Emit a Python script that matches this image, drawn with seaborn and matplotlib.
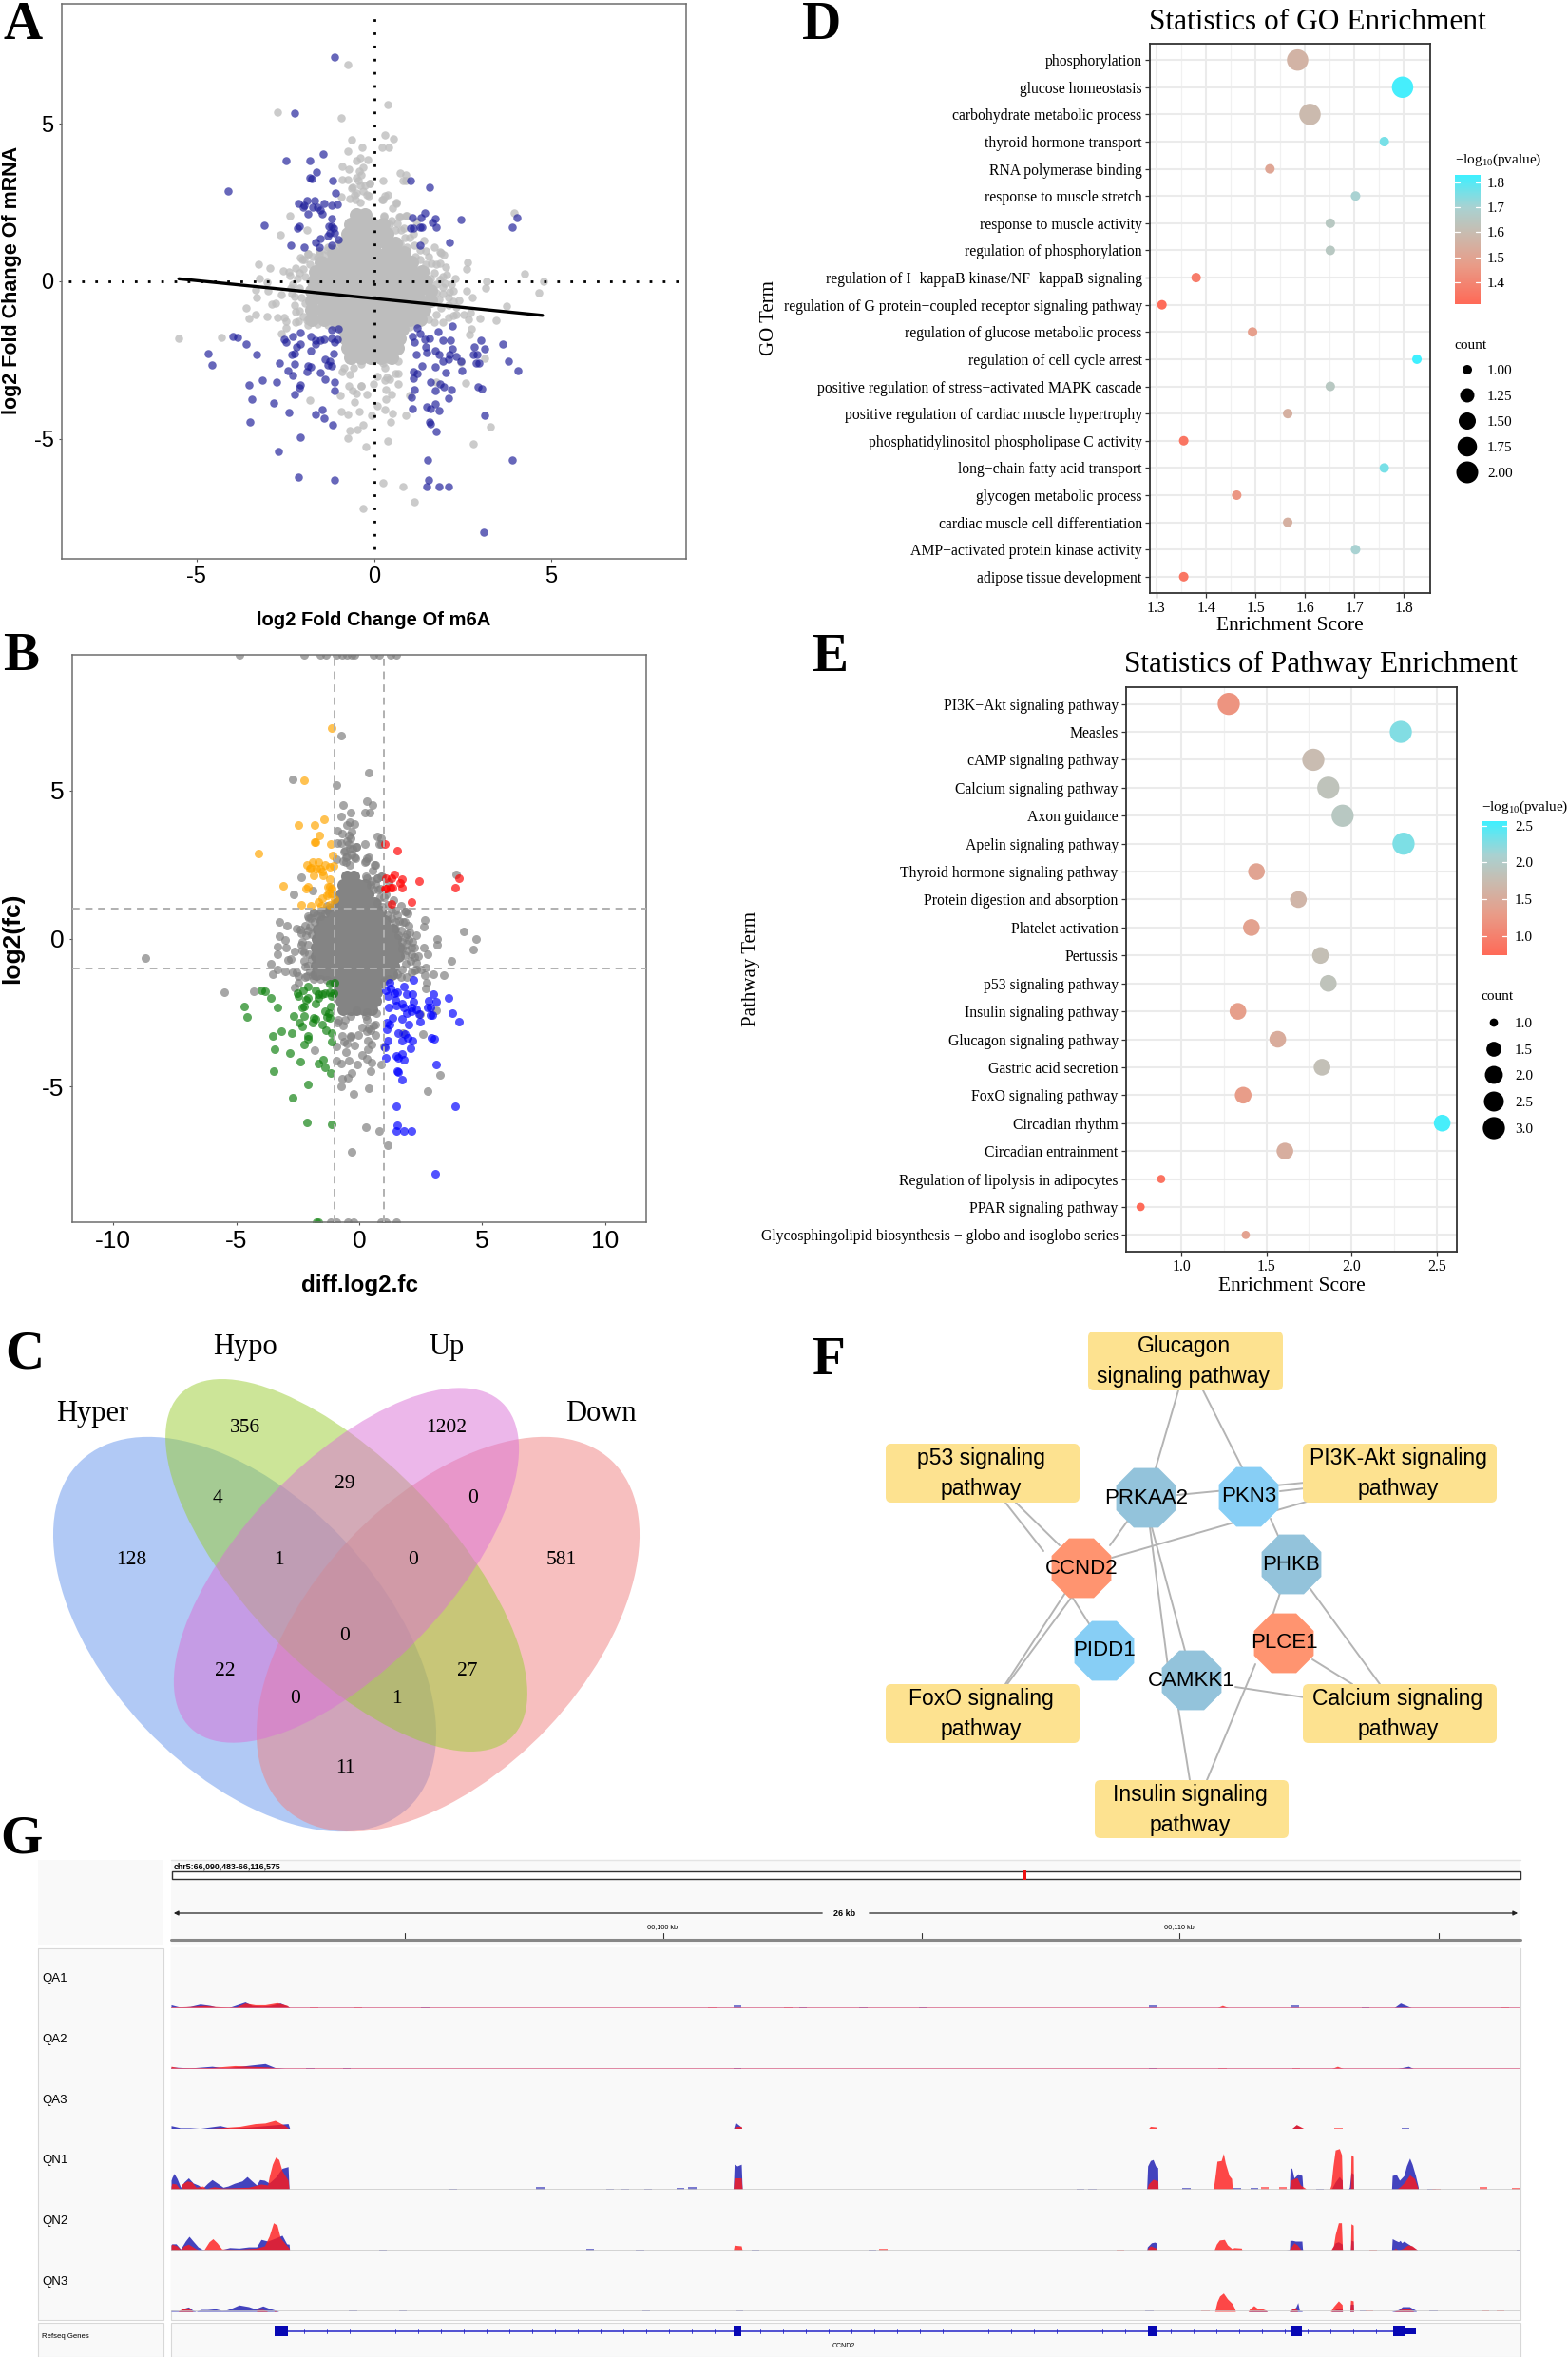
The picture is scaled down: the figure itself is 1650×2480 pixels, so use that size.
import numpy as np
import pandas as pd
import matplotlib
matplotlib.use("Agg")
import matplotlib.pyplot as plt
from matplotlib.colors import LinearSegmentedColormap
from matplotlib.patches import Ellipse, FancyBboxPatch, RegularPolygon, Rectangle
import seaborn as sns

sns.set_theme(style="white")
plt.rcParams["font.family"] = ["Liberation Sans", "DejaVu Sans"]
plt.rcParams["axes.unicode_minus"] = False
plt.rcParams["mathtext.default"] = "regular"
plt.rcParams["mathtext.fontset"] = "stix"

W, H = 1650, 2480
SERIF = "Liberation Serif"
SANS = "Liberation Sans"

# ---------------------------------------------------------------- scatter data
UP_LEFT = [(-1.11,7.11),(-2.24,5.33),(-2.49,3.83),(-1.81,3.83),(-1.42,4.04),(-1.63,3.48),(-1.82,3.27),(-1.76,3.25),
 (-1.16,3.2),(-1.09,2.8),(-4.1,2.86),(-3.09,1.79),(-2.35,1.15),(-1.96,1.1),(-2.16,1.7),(-2.09,1.76),(-2.13,2.48),
 (-2.0,2.35),(-1.96,2.4),(-1.89,2.57),(-1.87,2.14),(-1.68,2.57),(-1.72,2.35),(-1.59,2.35),(-1.4,2.48),(-1.46,2.14),
 (-1.18,2.42),(-1.04,2.44),(-1.52,2.27),(-1.2,1.99),(-1.27,1.75),(-1.18,1.75),(-1.13,1.7),(-1.24,1.53),(-1.11,1.53),
 (-1.52,1.36),(-1.66,1.24),(-1.55,1.1),(-1.19,1.14),(-1.01,1.33),(-1.31,1.46)]
UP_RIGHT = [(1.04,3.18),(1.56,2.98),(4.04,2.03),(3.89,1.71),(2.45,1.95),(1.42,2.18),(1.09,2.03),(1.33,2.03),(1.74,1.99),
 (1.66,1.88),(1.75,1.71),(1.04,1.7),(1.1,1.7),(1.29,1.71),(1.34,1.71),(1.31,1.16),(2.12,1.23)]
DOWN_LEFT = [(-4.68,-2.3),(-4.57,-2.64),(-3.98,-1.76),(-3.84,-1.78),(-3.61,-2.0),(-3.32,-2.33),(-3.53,-3.29),(-3.15,-3.14),
 (-2.75,-3.18),(-3.43,-3.73),(-3.49,-4.47),(-2.82,-3.87),(-2.41,-4.17),(-2.24,-3.58),(-2.07,-3.28),(-2.09,-3.39),
 (-2.69,-5.39),(-2.07,-4.93),(-2.12,-6.21),(-1.12,-6.29),(-1.66,-4.22),(-1.45,-4.08),(-1.41,-4.35),(-1.16,-4.54),
 (-1.11,-3.2),(-1.11,-3.48),(-1.37,-3.11),(-1.52,-2.9),(-1.79,-2.72),(-1.85,-2.67),(-1.9,-2.85),(-2.42,-2.84),(-2.3,-2.98),
 (-2.67,-2.6),(-2.24,-2.61),(-2.33,-2.33),(-2.24,-2.3),(-2.18,-2.07),(-2.07,-2.0),(-2.53,-1.83),(-2.28,-1.74),(-2.48,-1.93),
 (-2.07,-1.62),(-1.79,-1.74),(-1.66,-1.87),(-1.52,-1.87),(-1.41,-1.83),(-1.18,-1.8),(-1.04,-1.83),(-1.01,-1.5),(-1.18,-1.54),
 (-1.79,-2.2),(-1.38,-2.46),(-1.24,-2.52),(-1.18,-2.69),(-1.14,-2.29),(-1.31,-2.65),(-1.66,-2.0),(-1.11,-1.93)]
DOWN_RIGHT = [(3.09,-7.95),(3.9,-5.66),(2.11,-6.5),(1.83,-6.5),(1.5,-6.5),(1.55,-6.3),(1.52,-5.66),(1.75,-4.75),(1.6,-4.52),
 (1.56,-4.47),(3.12,-4.24),(1.08,-4.03),(1.49,-3.97),(1.6,-4.03),(1.72,-3.9),(1.83,-4.09),(1.05,-3.67),(1.15,-3.44),(1.6,-3.2),
 (1.87,-3.24),(1.97,-3.35),(1.74,-3.46),(2.18,-3.45),(2.09,-3.71),(2.93,-3.35),(3.04,-3.4),(1.11,-2.85),(1.22,-2.92),(1.12,-3.07),
 (1.35,-2.69),(1.74,-2.72),(2.01,-2.89),(2.49,-2.82),(2.89,-2.59),(2.97,-2.59),(2.91,-2.33),(2.8,-2.33),(2.82,-2.09),(3.13,-2.14),
 (3.02,-1.88),(3.64,-2.0),(3.79,-2.52),(4.06,-2.82),(2.45,-2.54),(2.31,-2.39),(2.13,-2.33),(2.11,-2.46),(1.93,-2.52),(1.83,-2.33),
 (1.74,-2.2),(1.94,-1.87),(2.16,-1.88),(2.22,-2.13),(2.2,-1.41),(1.81,-1.61),(1.56,-1.8),(1.42,-1.83),(1.22,-1.48),(1.29,-1.67),
 (1.08,-1.74),(1.15,-1.93),(1.18,-2.33),(1.45,-2.07),(1.49,-2.26)]
FRINGE = [(-0.73,6.86),(0.38,5.6),(-2.72,5.37),(-0.92,5.19),(0.3,4.64),(0.56,4.51),(-0.64,4.5),(-0.33,4.24),(0.22,4.26),(0.41,4.26),
 (-0.75,4.12),(-0.4,3.92),(-0.18,3.86),(-0.49,3.82),(-0.89,3.65),(-0.7,3.56),(0.74,3.44),(0.89,3.39),(0.81,3.2),(0.89,3.2),(0.25,3.19),
 (-0.9,3.23),(-0.75,3.23),(-0.12,3.1),(-0.42,3.49),(-0.31,3.62),(-0.49,3.29),(-0.4,3.03),(-0.59,2.97),(0.4,2.73),(0.26,2.6),(0.64,2.48),
 (0.53,2.31),(-0.92,2.67),(-0.67,2.61),(-0.55,2.75),(-0.3,2.85),(-0.15,2.7),(3.94,2.16),(-2.37,2.07),(-1.9,1.62),(-2.65,1.48),(0.29,2.05),(0.74,2.05),(0.92,2.09),
 (4.24,0.25),(4.77,0),(4.65,-0.37),(3.73,-0.77),(3.43,-1.23),(3.0,-1.19),(2.65,0.61),(2.61,0.39),(3.17,0),(3.16,-0.21),(2.61,-0.3),
 (2.78,-0.52),(2.52,-1.05),(2.72,-0.99),(2.67,-1.22),(2.75,-1.5),(2.69,-1.7),(3.13,-2.43),(2.46,-2.55),(2.59,-3.22),(3.27,-4.6),
 (2.79,-5.14),(0.4,-5.07),(-0.22,-5.24),(0.26,-6.38),(0.83,-6.51),(1.15,-6.99),(-0.31,-7.19),(-0.73,-4.98),(-0.68,-4.73),(-0.48,-4.69),
 (-0.31,-4.55),(-0.92,-4.13),(-0.74,-4.22),(-0.42,-4.13),(-0.08,-4.26),(0.47,-4.47),(0.3,-4.07),(0.51,-4.2),(0.89,-4.25),(1.01,-3.63),
 (-1.81,-3.78),(-0.94,-3.63),(-0.56,-3.83),(-0.7,-3.3),(-0.36,-3.3),(-0.02,-3.25),(0.33,-3.44),(0.67,-3.25),(0.33,-3.74),(1.76,-3.18),
 (-0.9,-2.85),(-0.67,-2.95),(0.26,-2.6),(0.67,-2.92),(-0.5,-3.55),(-0.2,-3.6),(0.1,-3.0),(0.45,-3.1),(-3.61,-0.84),(-3.52,-1.19),(-3.34,-1.05),
 (-3.01,-1.11),(-4.3,-1.78),(-5.5,-1.8),(-3.26,0.55),(-2.94,0.42),(-3.23,0.08),(-3.02,-0.04),(-3.34,-0.26),(-3.32,-0.52),(-2.98,-0.31),
 (-2.89,-0.72),(-2.78,-0.69),(-2.72,-1.15),(-2.54,-1.15),(-2.48,-1.28),(-2.61,-1.65),(-2.48,-1.48),(-2.56,0.33),(-2.37,0.18),(-2.2,0.42),
 (-2.41,0.29),(-2.31,-0.39),(-2.61,-0.43),(-2.07,0.75),(-1.86,0.88),(-1.96,0.68),(1.87,0.92),(1.98,0.85),(1.76,0.55),(2.01,0.44),(2.18,-0.1),
 (2.24,-0.3),(2.11,-0.52),(2.31,-0.82),(2.11,-1.15),(2.24,-1.08),(1.2,1.9),(1.4,1.3),(1.45,0.95),(1.1,1.5),(1.7,1.1),(-1.55,0.95),(-1.3,1.1),
 (-2.2,-0.95),(-2.3,-0.1),(-2.15,0.1),(2.3,0.1),(2.05,0.2),(2.4,-0.6),(1.95,-1.3),(1.7,-1.3),(-2.2,-1.3),
 (-0.35,3.39),(-0.44,3.19),(-0.26,3.04),(-0.13,3.09),(-0.63,2.94),(-0.5,2.79),(-0.21,2.74),(-0.53,2.59),(-0.39,2.49),(0.32,2.71),(0.23,2.59),
 (0.63,2.49),(0.72,2.04),(0.9,2.09),(0.5,1.94),(0.28,2.09),(0.77,1.64),(0.59,1.64),(0.86,1.39),(0.92,1.08),(1.17,0.78),(1.53,0.78),(1.3,0.98),
 (1.89,0.9),(1.62,0.58),(1.86,0.56),(1.46,0.33),(1.71,0.28),(1.93,0.16),(2.14,-0.32),(1.93,-0.17),(2.24,-0.62),(1.84,-0.57),(2.31,-1.04),
 (-2.03,0.68),(-1.87,0.88),(-1.73,0.78),(-1.55,0.88),(-1.33,0.98),(-2.09,0.28),(-2.05,-0.52),(-2.23,-0.47),(-2.09,-0.92),(-2.14,-1.28),(-1.87,-1.38),
 (-0.84,-2.73),(-0.57,-2.73),(-0.35,-2.63),(-0.1,-2.43),(0.29,-2.48),(0.68,-2.53),(0.32,-2.73),(0.59,-2.93),(0.32,-3.13),(-0.6,-3.48),(-0.35,-3.33),
 (0.37,-3.03),(0.5,-3.58),(0.1,-3.94),
 (1.75,-0.1),(1.85,0.05),(2.0,-0.05),(1.95,-0.4),(2.1,-0.75),(1.9,-0.85),(1.75,-1.05),(1.55,-1.2),(1.75,-0.35),(1.6,0.1),(1.45,0.55),(1.3,0.7),
 (1.15,1.15),(1.0,1.4),(0.85,1.7),(0.65,1.85),(0.45,1.8),(0.75,1.2),(-1.95,0.15),(-2.1,-0.2),(-1.95,-0.7),(-2.25,-0.75),(-2.35,-0.2),(-2.0,0.4),
 (-1.8,0.55),(-1.6,0.75),(-1.4,0.85),(-1.2,1.05),(-1.0,1.2),(-2.0,-1.1),(-1.9,-1.25),(-1.6,-1.35),(-1.3,-1.4),(-1.1,-1.45),(1.2,-1.35),(1.0,-1.45)]
CORE_ROWS = [
 (2.1,[-0.5,-0.25]),
 (1.8,[-0.65,-0.35,-0.05,0.25]),
 (1.5,[-0.75,-0.45,-0.15,0.15,0.35]),
 (1.2,[-0.85,-0.55,-0.25,0.05,0.35,0.6]),
 (0.9,[-1.15,-0.85,-0.55,-0.25,0.05,0.35,0.65,0.85]),
 (0.6,[-1.5,-1.2,-0.9,-0.6,-0.3,0.0,0.3,0.6,0.9,1.05]),
 (0.3,[-1.65,-1.35,-1.05,-0.75,-0.45,-0.15,0.15,0.45,0.75,1.05,1.35]),
 (0.0,[-1.7,-1.4,-1.1,-0.8,-0.5,-0.2,0.1,0.4,0.7,1.0,1.3,1.45]),
 (-0.3,[-1.75,-1.45,-1.15,-0.85,-0.55,-0.25,0.05,0.35,0.65,0.95,1.25,1.6]),
 (-0.6,[-1.75,-1.4,-1.1,-0.8,-0.5,-0.2,0.1,0.4,0.7,1.0,1.3,1.6]),
 (-0.9,[-1.75,-1.45,-1.15,-0.85,-0.55,-0.25,0.05,0.35,0.65,0.95,1.25,1.4]),
 (-1.2,[-1.75,-1.4,-1.1,-0.8,-0.5,-0.2,0.1,0.4,0.7,1.0,1.3]),
 (-1.5,[-0.85,-0.55,-0.25,0.05,0.35,0.65,0.8]),
 (-1.8,[-0.8,-0.5,-0.2,0.1,0.4,0.7]),
 (-2.1,[-0.75,-0.45,-0.15,0.1,0.4,0.65]),
 (-2.4,[-0.65,-0.35,-0.1,0.2,0.5]),
]
EDGE_TOP_X = [-4.87,-2.23,-1.6,-1.36,-0.91,-0.71,-0.51,-0.32,-0.18,0.57,0.81,1.26,1.52]
EDGE_BOTTOM_X = [-1.16,-0.91,-0.45,-0.22,0.87,1.07,1.52]
EDGE_BOTTOM_GREEN_X = [-1.75,-1.68]
B_EXTRA = [(-8.7,-0.65)]
A_LINE_X = [-5.5,4.75]
A_LINE_Y = [0.08,-1.08]

# ---------------------------------------------------------------- enrichment data
GO_TERMS = ["phosphorylation","glucose homeostasis","carbohydrate metabolic process","thyroid hormone transport",
 "RNA polymerase binding","response to muscle stretch","response to muscle activity","regulation of phosphorylation",
 "regulation of I−kappaB kinase/NF−kappaB signaling","regulation of G protein−coupled receptor signaling pathway",
 "regulation of glucose metabolic process","regulation of cell cycle arrest","positive regulation of stress−activated MAPK cascade",
 "positive regulation of cardiac muscle hypertrophy","phosphatidylinositol phospholipase C activity","long−chain fatty acid transport",
 "glycogen metabolic process","cardiac muscle cell differentiation","AMP−activated protein kinase activity","adipose tissue development"]
GO_SCORE = [1.585,1.797,1.61,1.76,1.529,1.702,1.651,1.651,1.38,1.311,1.494,1.826,1.651,1.565,1.355,1.76,1.462,1.565,1.702,1.355]
GO_LOGP = [1.56,1.82,1.59,1.76,1.51,1.70,1.65,1.65,1.37,1.32,1.48,1.83,1.65,1.55,1.35,1.76,1.45,1.55,1.70,1.35]
GO_COUNT = [2,2,2,1,1,1,1,1,1,1,1,1,1,1,1,1,1,1,1,1]
PW_TERMS = ["PI3K−Akt signaling pathway","Measles","cAMP signaling pathway","Calcium signaling pathway","Axon guidance",
 "Apelin signaling pathway","Thyroid hormone signaling pathway","Protein digestion and absorption","Platelet activation","Pertussis",
 "p53 signaling pathway","Insulin signaling pathway","Glucagon signaling pathway","Gastric acid secretion","FoxO signaling pathway",
 "Circadian rhythm","Circadian entrainment","Regulation of lipolysis in adipocytes","PPAR signaling pathway",
 "Glycosphingolipid biosynthesis − globo and isoglobo series"]
PW_SCORE = [1.279,2.29,1.776,1.864,1.948,2.306,1.442,1.688,1.412,1.818,1.864,1.333,1.567,1.827,1.364,2.533,1.609,0.882,0.761,1.379]
PW_LOGP = [1.2,2.27,1.75,1.85,1.93,2.29,1.4,1.65,1.37,1.8,1.85,1.33,1.52,1.81,1.3,2.52,1.55,0.85,0.76,1.38]
PW_COUNT = [3,3,3,3,3,3,2,2,2,2,2,2,2,2,2,2,2,1,1,1]

# ---------------------------------------------------------------- Venn and network data
VENN_SETS = ["Hyper","Hypo","Up","Down"]
VENN_COUNTS = [356,1202,4,29,0,128,1,0,581,0,22,27,0,1,11]
GENE_NODES = ["PRKAA2","PKN3","CCND2","PHKB","PIDD1","PLCE1","CAMKK1"]
PATHWAY_BOXES = [["Glucagon","signaling pathway"],["p53 signaling","pathway"],["PI3K-Akt signaling","pathway"],
                 ["FoxO signaling","pathway"],["Calcium signaling","pathway"],["Insulin signaling","pathway"]]

# ---------------------------------------------------------------- coverage tracks (bin, height)
TRACKS = ["QA1","QA2","QA3","QN1","QN2","QN3"]
BLUE = {
 "QA1":[[(171,10),(176,6),(180,3),(190,5),(200,12),(210,8),(218,2),(228,1),(245,18),(252,8),(262,6),(270,8),(280,15),(288,5),(290,0)],
        [(1393,0),(1400,15),(1408,5),(1412,0)]],
 "QA2":[[(171,6),(190,3),(212,8),(225,3),(265,16),(275,4),(290,0)],[(1395,0),(1408,8),(1414,0)]],
 "QA3":[[(171,12),(180,6),(190,6),(200,4),(220,12),(230,5),(250,8),(288,18),(290,0)],[(733,0),(735,22),(741,8),(742,0)],
        [(1290,0),(1296,14),(1303,3),(1305,0)]],
 "QN1":[[(171,28),(172,37),(174,48),(177,33),(180.5,7.5),(184,23),(188.4,35),(193,20),(198,14),(202.7,5),(207.4,19),(212,30),(217,20),(223,7.5),(228,11),(234.3,19),(242,26),(247,39),(251.8,26),(256.5,14),(259.7,30),(264.4,28),(269,20),(275.5,37),(282,63),(288,68),(289,0)],
        [(733,0),(734,75),(737,70),(741,75),(742,0)],
        [(1146.3,0),(1147.3,70),(1150,86),(1152.7,89),(1155.2,70),(1157.4,65),(1157.7,0)],
        [(1288.9,0),(1289.8,65),(1291.4,63),(1293.6,35),(1297.7,47),(1301.5,42),(1302.5,0)],
        [(1330.6,0),(1334.8,23),(1338.9,39),(1341.7,28),(1342,0)],[(1347.4,0),(1349,7),(1350.6,51),(1352.8,47),(1353.1,0)],
        [(1391.1,0),(1391.8,42),(1395.9,45),(1399,28),(1403.5,42),(1406,70),(1409.2,93),(1411.7,75),(1415,42),(1417.7,9),(1418,0)]],
 "QN2":[[(171,18),(172,20),(176,20),(180.5,5),(185.3,28),(189,42),(193,28),(198,11),(202.7,3),(221.7,3),(229.6,9),(239,7.5),(248.6,11),(256.5,11),(261,33),(267.6,28),(275.5,37),(282,45),(286.6,20),(289,19),(289.5,0)],
        [(1146.3,0),(1147,11),(1151,23),(1154.3,25),(1155.8,23),(1156.2,0)],
        [(1282.5,0),(1289,3),(1289.5,30),(1292,30),(1295,28),(1301.5,28),(1302,7),(1302.5,0)],
        [(1330.6,0),(1334.8,23),(1338,26),(1341.7,19),(1342,0)],[(1350,0),(1350.6,31),(1352.8,28),(1353.1,0)],
        [(1391.1,0),(1391.8,35),(1395,30),(1398,26),(1399.7,30),(1401.3,23),(1403.5,28),(1406,23),(1409.2,17),(1412.4,11),(1416.5,3),(1416.8,0)]],
 "QN3":[[(171,3),(172,3),(179,2),(183.7,9),(188.4,13),(193,3),(196,0),(201,5.5),(207.4,5.5),(215.3,7.5),(221.7,3),(226.4,4),(232.8,11),(239,19),(248.6,14),(255,7.5),(262.8,16),(269,9),(277,2),(278.7,0)],
        [(1247.7,0),(1252,4),(1265,3),(1267,0)],
        [(1288.9,0),(1292,7.5),(1295.2,11),(1297.4,26),(1299,3),(1301.5,2),(1301.8,0)],
        [(1330.6,0),(1336,7.5),(1341.7,7.5),(1342,0)],[(1349.5,0),(1350.1,21),(1352.8,21),(1353.1,0)],
        [(1391,0),(1398,5),(1402,14),(1409,14),(1415.5,3),(1415.8,0)]],
}
RED = {
 "QA1":[[(171,3),(190,5),(205,8),(215,5),(235,2),(245,15),(255,10),(265,10),(277,16),(287,8),(290,0)],[(1216,0),(1222,8),(1229,0)]],
 "QA2":[[(171,8),(180,3),(210,4),(235,10),(250,8),(268,6),(276,3),(285,0)],[(1330,0),(1337,8),(1344,0)]],
 "QA3":[[(171,3),(210,4),(240,10),(255,18),(265,20),(275,28),(285,12),(290,0)],[(733,0),(735,10),(741,10),(742,0)],
        [(1147,0),(1150,10),(1156,8),(1157,0)],[(1290,0),(1296,15),(1304,3),(1305,0)]],
 "QN1":[[(171,10),(172,19),(176,17),(180.5,0),(182,17),(187,26),(191.6,23),(196,7.5),(202.7,11),(206,3),(213.7,9),(223,5),(248.6,7.5),(261,17),(267.6,14),(269,37),(272.3,75),(275.5,96),(278.7,89),(282,56),(288,28),(289,0)],
        [(733,0),(734,35),(741,35),(742,0)],
        [(1146.3,0),(1148,17),(1152.7,31),(1157.4,26),(1157.7,0)],
        [(1212.8,0),(1214.4,33),(1216.6,84),(1220.8,86),(1223,107),(1224.9,79),(1228.7,42),(1231.2,33),(1231.8,9),(1233.4,0)],
        [(1288.9,0),(1290.4,28),(1293.6,33),(1296.8,35),(1300,14),(1304.7,5),(1306,0)],
        [(1329,0),(1330.6,14),(1332.6,70),(1334.8,117),(1338.9,121),(1341.1,103),(1342,0)],
        [(1350,0),(1350.6,103),(1352.8,98),(1353.1,0)],
        [(1395,0),(1399.7,9),(1404.4,23),(1409.2,44),(1414,33),(1417,9),(1418,0)]],
 "QN2":[[(171,15),(172,19),(177,14),(180.5,3),(183.7,14),(188.4,19),(194.8,7.5),(199.5,0),(204,3),(209,26),(212.8,35),(217,23),(221.7,5),(239,4),(256.5,7.5),(264.4,14),(269,42),(273.3,82),(277,75),(280.3,37),(286,17),(289,7.5),(289.5,0)],
        [(733,0),(734,16),(741,14),(742,0)],
        [(1146.3,0),(1148,9),(1150,14),(1155.8,7.5),(1156.2,0)],
        [(1213.5,0),(1216,19),(1219,31),(1224,33),(1227,17),(1232,5),(1233.4,9),(1241,7.5),(1241.7,0)],
        [(1288,0),(1290.4,9),(1293.6,23),(1296.8,17),(1300,5),(1301,0)],
        [(1330,0),(1333,14),(1334.8,47),(1338,82),(1341,82),(1342,5),(1342.4,0)],
        [(1350,0),(1350.6,79),(1352.8,75),(1353.1,0)],
        [(1391.8,0),(1395,7.5),(1398,0),(1402.9,7.5),(1407.6,17),(1411.7,14),(1416.5,3),(1416.8,0)]],
 "QN3":[[(178,0),(182,7.5),(187.8,11),(193,0)],[(256.5,5),(262.8,5.5),(267.6,0)],[(274,3),(277,0)],
        [(1214.4,0),(1216.6,28),(1219.2,45),(1223,54),(1227,37),(1231.8,23),(1234.4,7.5),(1235,0)],
        [(1247.7,0),(1249.3,7.5),(1253.4,17),(1257,9),(1262,7.5),(1266,3),(1266.7,0)],
        [(1288.9,0),(1292,7.5),(1295.2,11),(1296.8,3),(1297,0)],
        [(1330,0),(1333,14),(1338,31),(1341.7,20),(1342,0)],[(1349.5,0),(1350.1,33),(1352.8,31),(1353.1,0)],
        [(1393.4,0),(1401.3,6.5),(1409.2,7.5),(1413.3,0)]],
}
BLUE_SMALL = {"QA1":[(425,3),(737,8),(803,3),(863,3),(923,3),(1153,8),(1295,8),(1365,3)],
 "QA2":[(310,3),(347,3),(737,4),(1153,3)],
 "QA3":[(915,4),(1070,4),(1405,5)],
 "QN1":[(453,4),(540,7),(610,4),(625,4),(648,4),(680,5),(692,7),(1080,4),(1092,4),(1186,6),(1236.6,5),(1254,5),(1319.6,3),(1431,3)],
 "QN2":[(383,4),(590,5),(640,4),(755,3),(872,3),(1520,4)],
 "QN3":[(353,4),(403,3),(646,4),(739,4),(1149,3),(1363,3),(1433,3)]}
RED_SMALL = {"QA1":[(314,4),(358,3),(712,3),(788,3),(1505,3)],
 "QA2":[(1222,3),(1296,4)],
 "QA3":[(308,4),(418,4),(482,4),(1338,6)],
 "QN1":[(1264.5,9),(1282.5,7.5),(1436,4),(1483,7),(1515,5)],
 "QN2":[(883,5),(1120,4),(1373,3)],
 "QN3":[(1205,3),(1369,3),(1485,3),(1500,3)]}

# ---------------------------------------------------------------- helpers
fig = plt.figure(figsize=(W/100, H/100), dpi=100, facecolor="white")

def px_ax(l, t, r, b, **kw):
    return fig.add_axes([l/W, 1-b/H, (r-l)/W, (b-t)/H], **kw)

ov = px_ax(0, 0, W, H)
ov.set_xlim(0, W); ov.set_ylim(H, 0); ov.axis("off")

def T(x, y, s, size=11, fam=SERIF, ha="center", va="center", **kw):
    dy = 1.5 if (fam == SERIF and "rotation" not in kw and va == "center") else 0
    return ov.text(x, y+dy, s, fontsize=size, family=fam, ha=ha, va=va, color=kw.pop("color", "black"), **kw)

def diam(d):
    return (d*0.72)**2

for s, x, y in [("A",4,41),("B",3,705),("C",5,1439),("D",844,41),("E",854,706),("F",855,1446),("G",0,1949)]:
    T(x, y, s, size=41, ha="left", va="baseline", fontweight="bold")

def pts(lst):
    return [p[0] for p in lst], [p[1] for p in lst]

core = [(x, r[0]) for r in CORE_ROWS for x in r[1]]
core_x, core_y = pts(core)

def style_box(ax, color="#6e6e6e", lw=1.1):
    for sp in ax.spines.values():
        sp.set_visible(True); sp.set_color(color); sp.set_linewidth(lw)
    ax.set_xlabel(""); ax.set_ylabel("")

# ---------------------------------------------------------------- A
axA = px_ax(65, 4, 722, 588)
axA.set_xlim(-8.8, 8.8); axA.set_ylim(-8.8, 8.8)
sns.scatterplot(x=core_x, y=core_y, color="#bdbdbd", s=diam(15), linewidth=0, ax=axA)
fx, fy = pts(FRINGE)
sns.scatterplot(x=fx, y=fy, color="#bebebe", alpha=0.8, s=diam(8.5), linewidth=0, ax=axA)
colored = UP_LEFT+UP_RIGHT+DOWN_LEFT+DOWN_RIGHT
cx, cy = pts(colored)
sns.scatterplot(x=cx, y=cy, color="#1f1f9a", alpha=0.68, s=diam(8.5), linewidth=0, ax=axA, zorder=3)
axA.plot([0,0],[-8.5,8.6], color="black", lw=2, ls=(0,(1,4)), zorder=4)
axA.plot([-8.6,8.6],[0,0], color="black", lw=2, ls=(0,(1,4)), zorder=4)
axA.plot(A_LINE_X, A_LINE_Y, color="black", lw=2.4, zorder=5)
axA.set_xticks([-5,0,5]); axA.set_yticks([-5,0,5])
axA.tick_params(length=2, width=0.8, color="#555555", labelsize=17, pad=4, left=True, bottom=True, labelcolor="black")
style_box(axA)
T(13, 295, "log2 Fold Change Of mRNA", size=15.5, fam=SANS, rotation=90, fontweight="bold")
T(393, 653, "log2 Fold Change Of m6A", size=14.5, fam=SANS, fontweight="bold")
T(542, 48, "y=-0.1104x-0.5331", size=14.5, fam=SANS)
T(528, 97, "R$^2$ = 0.0065", size=14.5, fam=SANS)

# ---------------------------------------------------------------- B
axB = px_ax(76, 689, 680, 1286)
axB.set_xlim(-11.67, 11.67); axB.set_ylim(-9.58, 9.58)
sns.scatterplot(x=core_x, y=core_y, color="#848484", s=diam(13), linewidth=0, ax=axB)
bx, by = pts(FRINGE+B_EXTRA)
sns.scatterplot(x=bx, y=by, color="#808080", alpha=0.7, s=diam(9), linewidth=0, ax=axB)
sns.scatterplot(x=EDGE_TOP_X, y=[9.58]*len(EDGE_TOP_X), color="#808080", alpha=0.7, s=diam(9), linewidth=0, ax=axB)
sns.scatterplot(x=EDGE_BOTTOM_X, y=[-9.58]*len(EDGE_BOTTOM_X), color="#808080", alpha=0.7, s=diam(9), linewidth=0, ax=axB)
sns.scatterplot(x=EDGE_BOTTOM_GREEN_X, y=[-9.58]*len(EDGE_BOTTOM_GREEN_X), color="#1f8a1f", alpha=0.7, s=diam(9), linewidth=0, ax=axB)
for group, col in [(UP_LEFT,"#ffa500"),(UP_RIGHT,"#ff0000"),(DOWN_LEFT,"#0f800f"),(DOWN_RIGHT,"#0000ff")]:
    gx, gy = pts(group)
    sns.scatterplot(x=gx, y=gy, color=col, alpha=0.68, s=diam(9), linewidth=0, ax=axB, zorder=3)
for v in (-1, 1):
    axB.axvline(v, color="#b0b0b0", lw=1.4, ls=(0,(4,3)), zorder=4)
    axB.axhline(v, color="#b0b0b0", lw=1.4, ls=(0,(4,3)), zorder=4)
axB.set_xticks([-10,-5,0,5,10]); axB.set_yticks([-5,0,5])
axB.tick_params(length=2, width=0.8, color="#555555", labelsize=19, pad=4, left=True, bottom=True, labelcolor="black")
style_box(axB)
T(13, 987, "log2(fc)", size=19, fam=SANS, rotation=90, fontweight="bold")
T(378, 1353, "diff.log2.fc", size=17.5, fam=SANS, fontweight="bold")

# ---------------------------------------------------------------- D / E dot plots
cmap = LinearSegmentedColormap.from_list("tc", [(0,"#ff6a58"),(0.3,"#e99c88"),(0.55,"#c9bcb0"),(0.75,"#a9d2d2"),(1,"#3ff0ff")])

def dot_panel(box, xlim, ticks, terms, score, logp, count, hue_rng, size_rng, dia_rng):
    ax = px_ax(*box)
    df = pd.DataFrame({"t":terms,"x":score,"p":logp,"n":count})
    ax.set_axisbelow(True)
    sns.scatterplot(data=df, x="x", y="t", hue="p", palette=cmap, hue_norm=hue_rng, size="n",
                    sizes=(diam(dia_rng[0]), diam(dia_rng[1])), size_norm=size_rng, linewidth=0, legend=False, ax=ax, zorder=3)
    ax.set_xlim(*xlim); ax.set_ylim(19.6, -0.6)
    ax.set_xticks(ticks)
    mids = [(a+b)/2 for a, b in zip(ticks[:-1], ticks[1:])]
    ax.set_xticks(mids, minor=True)
    ax.grid(True, which="major", color="#ebebeb", lw=1.5)
    ax.grid(True, which="minor", axis="x", color="#f1f1f1", lw=0.9)
    ax.tick_params(which="major", length=3.5, width=0.9, color="#333333", labelsize=11.3, pad=2.5, left=True, bottom=True, labelcolor="black")
    ax.tick_params(which="minor", length=0)
    for lab in ax.get_xticklabels()+ax.get_yticklabels():
        lab.set_family(SERIF)
    style_box(ax, "#333333", 1.3)
    return ax

dot_panel((1210,46,1505,624),(1.2866,1.8528),[1.3,1.4,1.5,1.6,1.7,1.8],GO_TERMS,GO_SCORE,GO_LOGP,GO_COUNT,(1.312,1.83),(1,2),(10,22.5))
dot_panel((1185,723,1533,1317),(0.676,2.619),[1.0,1.5,2.0,2.5],PW_TERMS,PW_SCORE,PW_LOGP,PW_COUNT,(0.745,2.558),(1,3),(8.7,23.3))

T(1386, 22, "Statistics of GO Enrichment", size=22.6)
T(1357, 657, "Enrichment Score", size=15.5)
T(810, 335, "GO Term", size=15, rotation=90)
T(1390, 698, "Statistics of Pathway Enrichment", size=22.4)
T(1359, 1352, "Enrichment Score", size=15.5)
T(791, 1019, "Pathway Term", size=15, rotation=90)

def color_legend(l, t, r, b, lo, hi, ticks, labels, title_y, lab_x):
    ax = px_ax(l, t, r, b)
    ax.imshow(np.linspace(1, 0, 200)[:, None], cmap=cmap, aspect="auto", extent=(0, 1, lo, hi), vmin=0, vmax=1)
    for v in ticks:
        ax.plot([0, 0.2], [v, v], color="white", lw=0.9)
        ax.plot([0.8, 1], [v, v], color="white", lw=0.9)
    ax.set_xlim(0, 1); ax.set_ylim(lo, hi); ax.axis("off")
    T(l, title_y, "−log$_{10}$(pvalue)", size=11, ha="left")
    for v, s in zip(ticks, labels):
        y = b-(v-lo)/(hi-lo)*(b-t)
        T(lab_x, y, s, size=11, ha="left")

def size_legend(x, lab_x, title_y, ys, dias, labels):
    T(x-14, title_y, "count", size=11, ha="left")
    ov.scatter([x]*len(ys), ys, s=[diam(d) for d in dias], color="black", linewidths=0)
    for y, s in zip(ys, labels):
        T(lab_x, y, s, size=11, ha="left")

color_legend(1531,184,1558,320,1.312,1.83,[1.4,1.5,1.6,1.7,1.8],["1.4","1.5","1.6","1.7","1.8"],167,1565)
size_legend(1544,1565,362,[389,416,443,470,497],[10,15,18,20.5,23],["1.00","1.25","1.50","1.75","2.00"])
color_legend(1559,864,1586,1005,0.745,2.558,[1.0,1.5,2.0,2.5],["1.0","1.5","2.0","2.5"],847.5,1594)
size_legend(1572,1594,1047.5,[1076,1104,1131,1159,1187],[8.7,15.7,18.9,21,23.3],["1.0","1.5","2.0","2.5","3.0"])

# ---------------------------------------------------------------- C Venn
for xy, a, b, ang, col in [((257.5,1719.5),251,144,46.7,"#6495ed"),((471.5,1719.5),251,144,-46.7,"#f08080"),
                           ((364.5,1647),251,108,46.2,"#9acd32"),((364.5,1647),237,108,-46.2,"#da70d6")]:
    ov.add_patch(Ellipse(xy, 2*a, 2*b, angle=ang, facecolor=col, alpha=0.5, edgecolor="none"))
for name, x, y in zip(VENN_SETS, [97,258,470,632], [1486,1416,1416,1486]):
    T(x, y, name, size=22)
venn_xy = [(258,1501),(470,1501),(229,1575),(363,1560),(498,1575),(138,1640),(293,1640),(435,1640),(591,1640),
           (363,1720),(237,1757),(492,1757),(311,1786),(417,1786),(363,1859)]
for n, (x, y) in zip(VENN_COUNTS, venn_xy):
    T(x, y, str(n), size=15.5)

# ---------------------------------------------------------------- F network
edges = [((1240,1463),(1216,1545)),((1266,1463),(1307,1544)),((1373,1560),(1239,1573)),((1373,1566),(1347,1569)),
         ((1375,1580),(1170,1639)),((1058,1581),(1098,1632)),((1068,1580),(1115,1626)),((1058,1772),(1121,1676)),
         ((1060,1772),(1128,1680)),((1168,1626),(1186,1601)),((1128,1680),(1147,1710)),((1337,1598),(1345,1616)),
         ((1379,1672),(1452,1772)),((1347,1676),(1339,1700)),((1381,1746),(1423,1772)),((1321,1751),(1270,1873)),
         ((1240,1798),(1252,1873)),((1300,1775),(1373,1786)),((1212,1607),(1247,1737)),((1210,1607),(1231,1769))]
for p, q in edges:
    ov.plot([p[0],q[0]], [p[1],q[1]], color="#b4b4b4", lw=1.4, zorder=1, solid_capstyle="round")
boxes = [(1145,1401,1350,1463),(932,1519,1136,1581),(1371,1519,1575,1581),(932,1772,1136,1834),(1371,1772,1575,1834),(1152,1873,1356,1934)]
for (l,t,r,b), lines in zip(boxes, PATHWAY_BOXES):
    ov.add_patch(FancyBboxPatch((l+5,t+5), r-l-10, b-t-10, boxstyle="round,pad=5,rounding_size=6", facecolor="#fde290", edgecolor="none", zorder=2))
    cx0 = (l+r)/2-2
    T(cx0, t+15.5, lines[0], size=16.5, fam=SANS, zorder=5)
    T(cx0, t+47.5, lines[1], size=16.5, fam=SANS, zorder=5)
node_xy = [(1206,1576),(1314,1575),(1138,1650),(1359,1646),(1162,1737),(1351,1729),(1254,1768)]
node_col = ["#93c3db","#87cef5","#ff9470","#93c3db","#87cef5","#ff9470","#93c3db"]
for name, (x,y), col in zip(GENE_NODES, node_xy, node_col):
    ov.add_patch(RegularPolygon((x,y), 8, radius=34, orientation=np.pi/8, facecolor=col, edgecolor="none", zorder=3))
    T(x, y, name, size=16, fam=SANS, zorder=6)

# ---------------------------------------------------------------- G coverage
BG = "#f9f9f9"
ov.add_patch(Rectangle((40,1957),132,90,facecolor=BG,edgecolor="none"))
ov.add_patch(Rectangle((180,1957),1420,90,facecolor=BG,edgecolor="none"))
ov.plot([180,1600],[1957,1957],color="#e4e4e4",lw=1)
ov.add_patch(Rectangle((40,2050),132,391,facecolor=BG,edgecolor="#d8d8d8",lw=0.8))
ov.add_patch(Rectangle((180,2050),1420,391,facecolor=BG,edgecolor="#d8d8d8",lw=0.8))
ov.add_patch(Rectangle((40,2444),132,36,facecolor=BG,edgecolor="#d8d8d8",lw=0.8))
ov.add_patch(Rectangle((180,2444),1420,36,facecolor=BG,edgecolor="#d8d8d8",lw=0.8))
T(183, 1963.5, "chr5:66,090,483-66,116,575", size=6.3, fam=SANS, ha="left", fontweight="bold")
ov.add_patch(Rectangle((181,1969),1419,8,facecolor="white",edgecolor="#333333",lw=1.0))
ov.add_patch(Rectangle((1076.5,1968),3,10,facecolor="#ee1111",edgecolor="none",zorder=3))
ov.annotate("", xy=(180,2013), xytext=(868,2013), arrowprops=dict(arrowstyle="-|>",color="#222222",lw=0.9,mutation_scale=7))
ov.annotate("", xy=(1600,2013), xytext=(912,2013), arrowprops=dict(arrowstyle="-|>",color="#222222",lw=0.9,mutation_scale=7))
T(889, 2013, "26 kb", size=6.5, fam=SANS, fontweight="bold")
T(697, 2028, "66,100 kb", size=5.2, fam=SANS)
T(1241, 2028, "66,110 kb", size=5.2, fam=SANS)
for x in [426,698,970,1241,1514]:
    ov.plot([x,x],[2034,2040],color="#333333",lw=0.8)
ov.plot([180,1600],[2041,2041],color="#888888",lw=2.2)

baselines = [2113,2177,2241,2304,2368,2432]
for name, base in zip(TRACKS, baselines):
    ax = px_ax(180, base-63.6, 1600, base, facecolor=BG)
    ax.set_xlim(171, 1520); ax.set_ylim(0, 178)
    for peak in BLUE[name]:
        xs, ys = pts(peak)
        ax.fill_between(xs, ys, color="#2f2fb8", alpha=0.9, linewidth=0)
    sx, sy = pts(BLUE_SMALL[name])
    ax.bar(sx, sy, width=8, color="#5050c0", alpha=0.75, linewidth=0)
    for peak in RED[name]:
        xs, ys = pts(peak)
        ax.fill_between(xs, ys, color="#ff1a1a", alpha=0.8, linewidth=0)
    sx, sy = pts(RED_SMALL[name])
    ax.bar(sx, sy, width=8, color="#ff5050", alpha=0.75, linewidth=0)
    line_col = "#d8668a" if name.startswith("QA") else "#c8c8c8"
    ax.axhline(1, color=line_col, lw=1.8)
    ax.axis("on"); ax.set_xticks([]); ax.set_yticks([])
    for sp in ax.spines.values():
        sp.set_visible(False)
    T(44, base-31, name, size=9.5, fam=SANS, ha="left")
    T(184, base-58, "p-sq", size=4.6, fam=SANS, ha="left", zorder=6)

# gene model
ov.plot([303,1466],[2452.5,2452.5],color="#2424c8",lw=1.1)
for x in np.arange(320,1466,24):
    ov.plot([x,x],[2450.5,2454.5],color="#2424c8",lw=0.6)
for l, r, t, b in [(289,303,2447,2458),(772,780,2447,2458),(1208,1217,2447,2458),(1358,1370,2447,2458),(1466,1479,2447,2458),(1479,1490,2450,2456)]:
    ov.add_patch(Rectangle((l,t),r-l,b-t,facecolor="#0808b4",edgecolor="none",zorder=3))
T(44, 2458.6, "Refseq Genes", size=5.6, fam=SANS, ha="left")
T(888, 2468, "CCND2", size=5, fam=SANS)

fig.savefig("out.png", dpi=100, facecolor="white")
